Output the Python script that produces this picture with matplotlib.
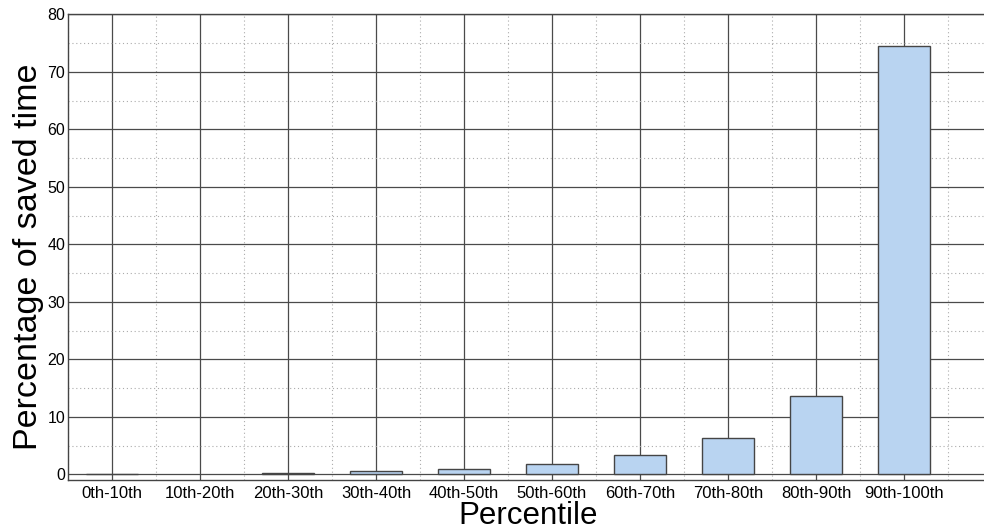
import matplotlib
matplotlib.use("Agg")
import matplotlib.pyplot as plt
from matplotlib.ticker import MultipleLocator
import numpy as np

plt.rcParams['font.family'] = ['Liberation Sans', 'DejaVu Sans']

categories = ['0th-10th', '10th-20th', '20th-30th', '30th-40th', '40th-50th',
              '50th-60th', '60th-70th', '70th-80th', '80th-90th', '90th-100th']
saved_pct = [0.05, 0.0, 0.28, 0.52, 0.87, 1.85, 3.3, 6.25, 13.6, 74.4]

fig = plt.figure(figsize=(9.84, 5.30), dpi=100)
ax = fig.add_axes([68 / 984, 50 / 530, 968 / 984, 465.7 / 530])

x = np.arange(len(categories))
values = np.array(saved_pct)
# a bin with no saved time gets no bar outline at all
shown = values > 0
ax.bar(x[shown], values[shown], width=0.6, color='#b9d4f1', edgecolor='#454545',
       linewidth=1.0, zorder=3)

ax.set_xlim(-0.5, 10.5)
ax.set_ylim(-1, 80)
ax.set_xticks(x)
ax.set_xticklabels(categories, fontsize=12)
ax.yaxis.set_major_locator(MultipleLocator(10))
ax.yaxis.set_minor_locator(MultipleLocator(5))
ax.xaxis.set_minor_locator(MultipleLocator(1, offset=0.5))
ax.tick_params(axis='y', labelsize=11.5, pad=2, length=0, which='both')
ax.tick_params(axis='x', pad=4, length=0, which='both')

ax.grid(True, which='major', color='#4a4a4a', linewidth=0.9, linestyle='-', zorder=0)
ax.grid(True, which='minor', color='#ababab', linewidth=0.8, linestyle=(0, (1, 2.5)), zorder=0)
ax.set_axisbelow(True)

for s in ax.spines.values():
    s.set_color('#444444')
    s.set_linewidth(1.0)

ax.set_xlabel('Percentile', fontsize=22.5)
ax.xaxis.set_label_coords(0.4755, -0.045)
ax.set_ylabel('Percentage of saved time', fontsize=24.5)
ax.yaxis.set_label_coords(-0.025, 0.48)

fig.savefig('out.png', dpi=100)
